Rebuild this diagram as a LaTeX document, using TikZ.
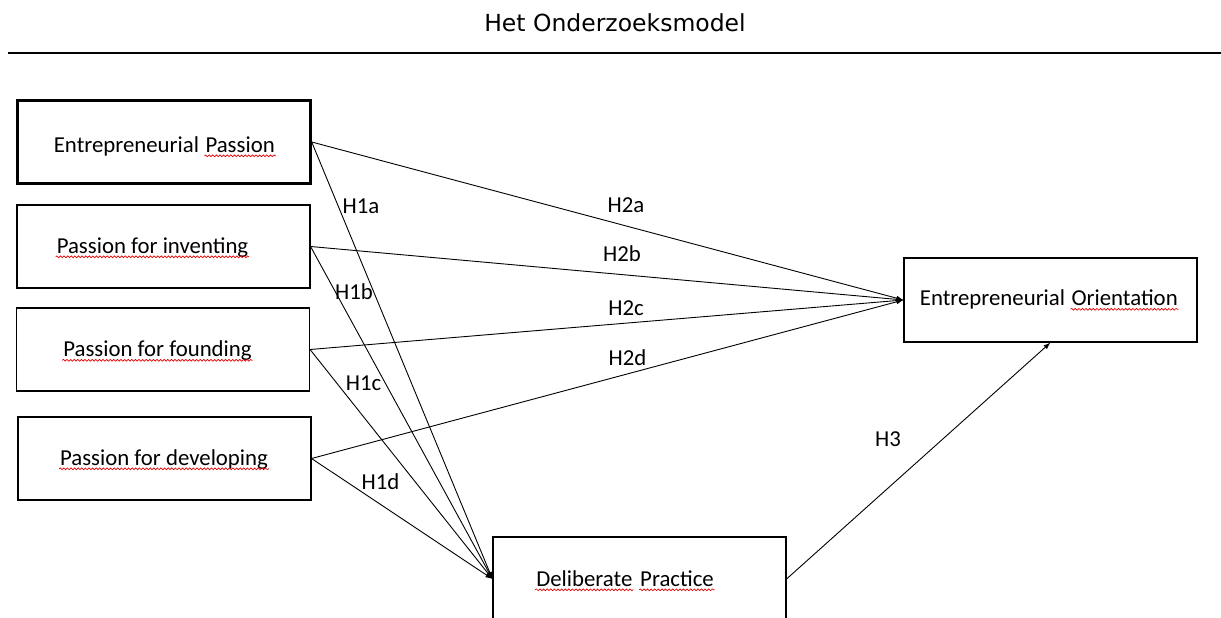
\documentclass[tikz,border=0pt]{standalone}
\usepackage{fontspec}
\setmainfont{Carlito}
\newfontfamily\titlefont{DejaVu Sans}
\usetikzlibrary{arrows.meta,decorations.pathmorphing}

\tikzset{
  box/.style={draw, line width=1.1pt, minimum width=293pt, minimum height=83pt, inner sep=0pt},
  txt/.style={anchor=base, inner sep=0pt, font=\fontsize{22.8}{27}\selectfont},
  hyp/.style={-{Latex[length=7pt,width=5pt]}, line width=0.9pt},
}
% red spell-check line under a word
\newcommand{\squig}[1]{\tikz[baseline=(sq.base)]{\node[inner sep=0pt,outer sep=0pt,draw=none,anchor=base,minimum width=0pt,minimum height=0pt] (sq) {#1};\draw[red!90!black,line width=0.7pt,decorate,decoration={snake,amplitude=0.9pt,segment length=3.6pt}] ([shift={(-1pt,-3.8pt)}]sq.base west) -- ([shift={(1pt,-3.8pt)}]sq.base east);}}

\begin{document}
\begin{tikzpicture}[x=1pt,y=-1pt]
        \useasboundingbox (0,0) rectangle (1221,618);
        \clip (0,0) rectangle (1221,618);

        % Title and rule
        \node[anchor=base, inner sep=0pt, font=\titlefont\fontsize{23.5}{28}\selectfont] (title) at (615,32) {Het Onderzoeksmodel};
        \coordinate (rl) at (8,53);
        \coordinate (rr) at (1221,53);
        \draw[line width=1.4pt] (rl) -- (rr);

        % Boxes
        \node[box, line width=2.4pt] (ep) at (164,142) {};
        \node[box] (pi) at (163.5,246.5) {};
        \node[box] (pf) at (163,349.5) {};
        \node[box] (pd) at (164.5,458.5) {};
        \node[box, minimum height=84pt] (eo) at (1050.5,300) {};
        \node[box, minimum height=84pt] (dp) at (639.5,579) {};

        % Box texts
        \node[txt] (ep-t) at (165,152) {Entrepreneurial \squig{Passion}};
        \node[txt] (pi-t) at (152.5,253) {\squig{Passion for inventing}};
        \node[txt] (pf-t) at (157.5,356.5) {\squig{Passion for founding}};
        \node[txt] (pd-t) at (164,465) {\squig{Passion for developing}};
        \node[txt] (eo-t) at (1049.5,305.5) {Entrepreneurial \squig{Orientation}};
        \node[txt] (dp-t) at (625,586) {\squig{Deliberate} \squig{Practice}};

        % Paths to deliberate practice
        \draw[hyp] (ep.east) -- (dp.west);
        \draw[hyp] (pi.east) -- (dp.west);
        \draw[hyp] (pf.east) -- (dp.west);
        \draw[hyp] (pd.east) -- (dp.west);

        % Paths to entrepreneurial orientation
        \draw[hyp] (ep.east) -- (eo.west);
        \draw[hyp] (pi.east) -- (eo.west);
        \draw[hyp] (pf.east) -- (eo.west);
        \draw[hyp] (pd.east) -- (eo.west);
        \draw[hyp] (dp.east) -- (eo.south);

        % Hypothesis labels
        \node[txt] (h1a) at (361,213) {H1a};
        \node[txt] (h1b) at (354,299) {H1b};
        \node[txt] (h1c) at (363.5,390.5) {H1c};
        \node[txt] (h1d) at (380.5,489) {H1d};
        \node[txt] (h2a) at (626,212) {H2a};
        \node[txt] (h2b) at (622,261.5) {H2b};
        \node[txt] (h2c) at (626,315.5) {H2c};
        \node[txt] (h2d) at (627.5,365) {H2d};
        \node[txt] (h3) at (888,446.5) {H3};
    \end{tikzpicture}
\end{document}
